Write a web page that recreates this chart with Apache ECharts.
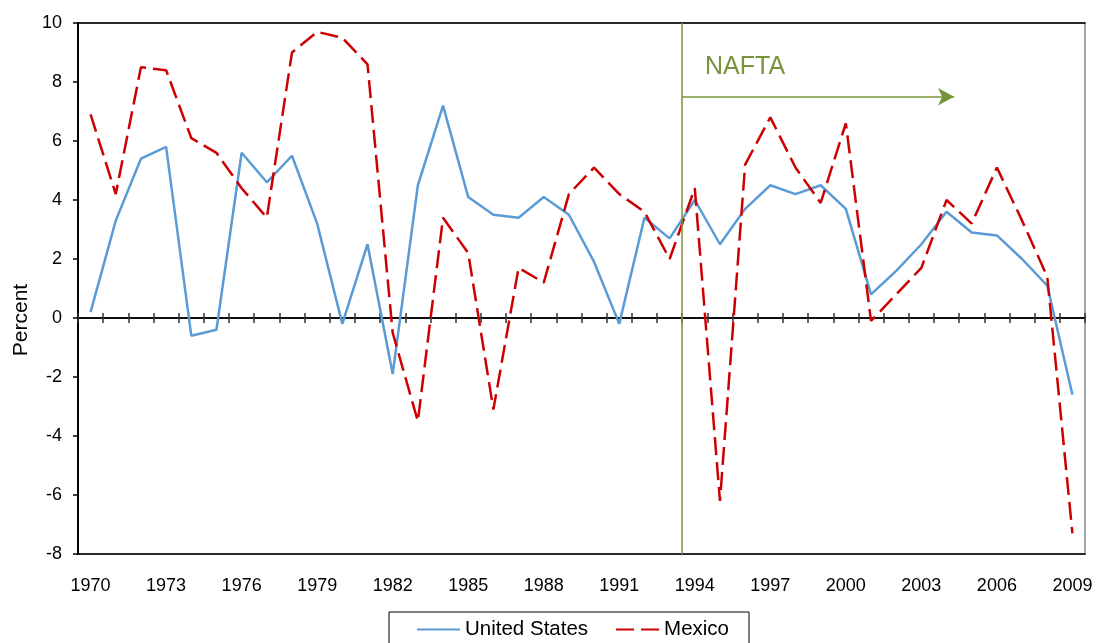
<!DOCTYPE html>
<html>
<head>
<meta charset="utf-8">
<script src="https://cdn.jsdelivr.net/npm/echarts@6/dist/echarts.min.js"></script>
<style>html,body{margin:0;padding:0;background:#fff}#c{width:1096px;height:643px}</style>
</head>
<body>
<div id="c"></div>
<script>
const years = [];
for (let y = 1970; y <= 2009; y++) years.push(String(y));
const unitedStates = [0.2, 3.3, 5.4, 5.8, -0.6, -0.4, 5.6, 4.6, 5.5, 3.2,
  -0.2, 2.5, -1.9, 4.5, 7.2, 4.1, 3.5, 3.4, 4.1, 3.5,
  1.9, -0.2, 3.4, 2.7, 4.0, 2.5, 3.7, 4.5, 4.2, 4.5,
  3.7, 0.8, 1.6, 2.5, 3.6, 2.9, 2.8, 2.0, 1.1, -2.6];
const mexico = [6.9, 4.2, 8.5, 8.4, 6.1, 5.6, 4.4, 3.4, 9.0, 9.7,
  9.5, 8.6, -0.5, -3.5, 3.4, 2.2, -3.1, 1.7, 1.2, 4.2,
  5.1, 4.2, 3.6, 2.0, 4.4, -6.2, 5.2, 6.8, 5.1, 3.9,
  6.6, -0.1, 0.8, 1.7, 4.0, 3.2, 5.1, 3.3, 1.4, -7.3];
const yTicks = {min: -8, max: 10, interval: 2};
const naftaStart = 1993.5;   // NAFTA begins (boundary before 1994)
const arrowEnd = 2004.3;
const arrowLevel = 7.5;

const chart = echarts.init(document.getElementById('c'));
const font = 'Liberation Sans, Arial, sans-serif';
const gridRect = {left: 78, right: 11, top: 23, bottom: 89};
const green = '#77933C';

chart.setOption({
  animation: false,
  backgroundColor: '#fff',
  textStyle: {fontFamily: font},
  grid: [
    Object.assign({show: true, borderColor: '#a6a6a6', borderWidth: 2, backgroundColor: 'transparent'}, gridRect),
    Object.assign({}, gridRect),
    Object.assign({}, gridRect)
  ],
  xAxis: [
    {type: 'category', data: years, gridIndex: 0, position: 'bottom', boundaryGap: true,
     axisLine: {onZero: false, lineStyle: {color: '#000', width: 1.5}},
     axisTick: {show: false},
     axisLabel: {interval: 2, fontSize: 18, color: '#000', margin: 23, fontFamily: font}},
    {type: 'category', data: years, gridIndex: 0, position: 'top', boundaryGap: true,
     axisLine: {onZero: true, lineStyle: {color: '#000', width: 1.5}},
     axisTick: {show: true, interval: 0, length: 5, lineStyle: {color: '#333', width: 1.5}},
     axisLabel: {show: false}},
    {type: 'category', data: years, gridIndex: 1, position: 'top', boundaryGap: true,
     axisLine: {onZero: false, lineStyle: {color: '#000', width: 1.5}},
     axisTick: {show: false}, axisLabel: {show: false}},
    {type: 'category', data: years, gridIndex: 1, position: 'bottom', boundaryGap: true,
     axisLine: {onZero: true, lineStyle: {color: '#000', width: 1.5}},
     axisTick: {show: true, interval: 0, length: 5, lineStyle: {color: '#333', width: 1.5}},
     axisLabel: {show: false}},
    {type: 'value', gridIndex: 2, min: 1969.5, max: 2009.5, show: false}
  ],
  yAxis: [
    {type: 'value', gridIndex: 0, min: yTicks.min, max: yTicks.max, interval: yTicks.interval,
     axisLine: {show: true, lineStyle: {color: '#000', width: 2}},
     axisTick: {show: true, length: 5, lineStyle: {color: '#000', width: 1.5}},
     splitLine: {show: false},
     axisLabel: {fontSize: 18, color: '#000', margin: 16, fontFamily: font}},
    {type: 'value', gridIndex: 1, min: yTicks.min, max: yTicks.max, interval: yTicks.interval, show: false,
     splitLine: {show: false}},
    {type: 'value', gridIndex: 2, min: yTicks.min, max: yTicks.max, show: false, splitLine: {show: false}}
  ],
  legend: {
    data: ['United States', 'Mexico'],
    left: 389, top: 612,
    padding: [7, 20, 10, 27],
    borderColor: '#000', borderWidth: 1,
    itemWidth: 43, itemHeight: 14, itemGap: 27,
    itemStyle: {opacity: 0},
    textStyle: {fontSize: 20.5, color: '#000', fontFamily: font}
  },
  series: [
    {name: 'United States', type: 'line', xAxisIndex: 0, yAxisIndex: 0, data: unitedStates,
     symbol: 'none', lineStyle: {color: '#5b9bd5', width: 2.5}, itemStyle: {color: '#5b9bd5'}, z: 3},
    {name: 'Mexico', type: 'line', xAxisIndex: 0, yAxisIndex: 0, data: mexico,
     symbol: 'none', lineStyle: {color: '#cc0000', width: 2.5, type: [18, 7]}, itemStyle: {color: '#cc0000'}, z: 4},
    {name: 'nafta', type: 'line', xAxisIndex: 4, yAxisIndex: 2, data: [],
     silent: true,
     markLine: {
       silent: true, animation: false,
       label: {show: false},
       data: [
         [{coord: [naftaStart, yTicks.max], symbol: 'none'}, {coord: [naftaStart, yTicks.min], symbol: 'none'}],
         [{coord: [naftaStart, arrowLevel], symbol: 'none'}, {coord: [arrowEnd, arrowLevel], symbol: 'arrow', symbolSize: [13, 16]}]
       ],
       lineStyle: {color: green, width: 1.5, type: 'solid'}
     }}
  ],
  graphic: [
    {type: 'text', left: 705, top: 55, style: {text: 'NAFTA', fontSize: 25, fill: green, fontFamily: font}},
    {type: 'text', x: 21.5, y: 320, rotation: Math.PI / 2,
     style: {text: 'Percent', fontSize: 21, fill: '#000', fontFamily: font, align: 'center', verticalAlign: 'middle'}}
  ]
});
</script>
</body>
</html>
